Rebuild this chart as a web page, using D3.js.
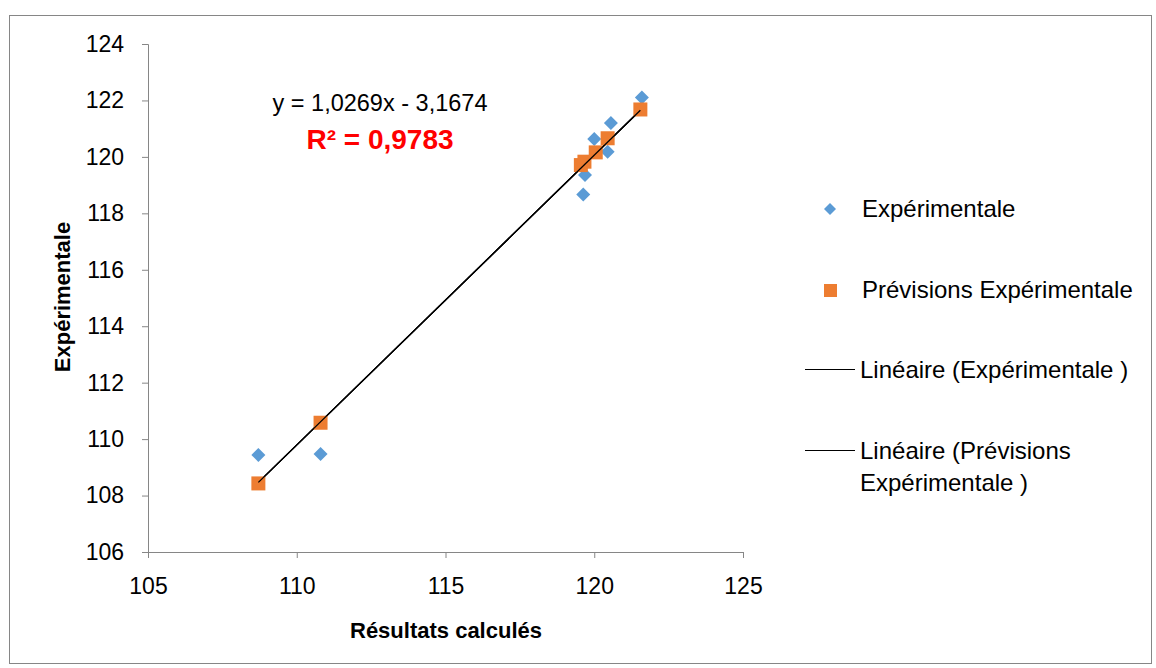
<!DOCTYPE html>
<html><head><meta charset="utf-8">
<script src="https://cdn.jsdelivr.net/npm/d3@7"></script>
<style>body{margin:0;background:#fff}svg{display:block}text{font-family:"Liberation Sans",Arial,sans-serif}</style>
</head><body><svg id="c" width="1156" height="668"></svg>
<script>
const expX = [108.71, 110.80, 119.63, 119.69, 120.00, 120.45, 120.56, 121.60];
const expY = [109.44, 109.47, 118.67, 119.36, 120.63, 120.18, 121.20, 122.10];
const prevX = [108.71, 110.80, 119.55, 119.67, 120.05, 120.45, 121.55];
const prevY = [108.43, 110.58, 119.71, 119.83, 120.16, 120.66, 121.68];
const xTicks = [105, 110, 115, 120, 125];
const yTicks = [106, 108, 110, 112, 114, 116, 118, 120, 122, 124];
const trendSlope = 1.0269, trendIntercept = -3.1674;
const seriesNames = ["Expérimentale", "Prévisions Expérimentale", "Linéaire (Expérimentale )", "Linéaire (Prévisions Expérimentale )"];

const svg = d3.select("#c");
svg.append("rect").attr("x",9.5).attr("y",15.5).attr("width",1142).attr("height",648)
  .attr("fill","#fff").attr("stroke","#868686").attr("stroke-width",1);

const x = d3.scaleLinear().domain([105,125]).range([148,743]);
const y = d3.scaleLinear().domain([106,124]).range([552,44]);

const gx = svg.append("g").attr("transform","translate(0,552)")
  .call(d3.axisBottom(x).tickValues(xTicks).tickSize(6).tickPadding(20));
const gy = svg.append("g").attr("transform","translate(148,0)")
  .call(d3.axisLeft(y).tickValues(yTicks).tickSize(6).tickPadding(18));
[gx,gy].forEach(g=>{
  g.selectAll("path,line").attr("stroke","#868686");
  g.selectAll("text").attr("font-size",23).attr("fill","#000").attr("font-family","'Liberation Sans',Arial,sans-serif");
});

// trend lines
const tl = d3.line().x(d=>x(d)).y(d=>y(trendSlope*d+trendIntercept));
[d3.extent(expX), d3.extent(prevX)].forEach(ext=>{
  svg.append("path").attr("d",tl(ext)).attr("stroke","#000").attr("stroke-width",1.3).attr("fill","none");
});

const diamond = s => `M0,${-s}L${s},0L0,${s}L${-s},0Z`;
svg.append("g").selectAll("path").data(expX.map((v,i)=>[v,expY[i]])).join("path")
  .attr("d",diamond(7)).attr("transform",d=>`translate(${x(d[0])},${y(d[1])})`).attr("fill","#5B9BD5");
svg.append("g").selectAll("rect").data(prevX.map((v,i)=>[v,prevY[i]])).join("rect")
  .attr("x",d=>x(d[0])-7).attr("y",d=>y(d[1])-7).attr("width",14).attr("height",14).attr("fill","#ED7D31");

// redraw trend on top
svg.append("path").attr("d",tl(d3.extent(prevX))).attr("stroke","#000").attr("stroke-width",1.3).attr("fill","none");

// equation
svg.append("text").attr("x",380).attr("y",111).attr("text-anchor","middle").attr("font-size",23.5)
  .text("y = 1,0269x - 3,1674");
svg.append("text").attr("x",380).attr("y",149).attr("text-anchor","middle").attr("font-size",28)
  .attr("font-weight","bold").attr("fill","#FF0000").text("R² = 0,9783");

// axis titles
svg.append("text").attr("x",446).attr("y",638).attr("text-anchor","middle").attr("font-size",22)
  .attr("font-weight","bold").text("Résultats calculés");
svg.append("text").attr("transform","translate(70,297) rotate(-90)").attr("text-anchor","middle")
  .attr("font-size",22).attr("font-weight","bold").text("Expérimentale");

// legend
const lg = svg.append("g");
lg.append("path").attr("d",diamond(6)).attr("transform","translate(830,209)").attr("fill","#5B9BD5");
lg.append("rect").attr("x",824).attr("y",284).attr("width",13).attr("height",13).attr("fill","#ED7D31");
lg.append("line").attr("x1",805).attr("x2",855).attr("y1",369.5).attr("y2",369.5).attr("stroke","#000").attr("stroke-width",1.2);
lg.append("line").attr("x1",805).attr("x2",855).attr("y1",450.5).attr("y2",450.5).attr("stroke","#000").attr("stroke-width",1.2);
const ls = 24;
lg.append("text").attr("x",862).attr("y",217).attr("font-size",ls).text(seriesNames[0]);
lg.append("text").attr("x",862).attr("y",298).attr("font-size",ls).text(seriesNames[1]);
lg.append("text").attr("x",860).attr("y",378).attr("font-size",ls).text(seriesNames[2]);
const t4 = lg.append("text").attr("x",860).attr("y",459).attr("font-size",ls);
t4.append("tspan").attr("x",860).text("Linéaire (Prévisions");
t4.append("tspan").attr("x",860).attr("dy",32).text("Expérimentale )");
</script></body></html>
